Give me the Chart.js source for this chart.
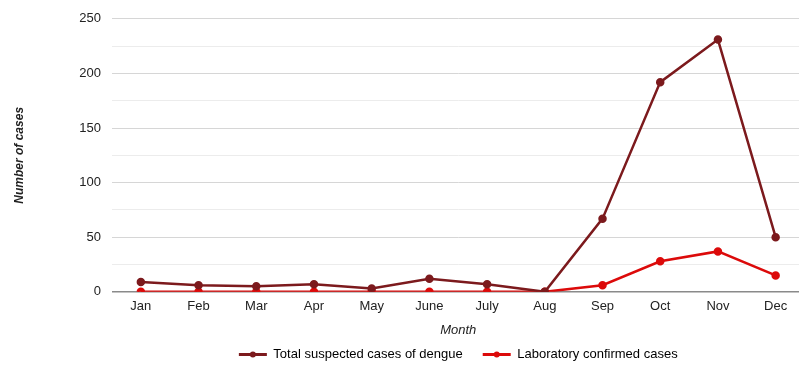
<!DOCTYPE html>
<html>
<head>
<meta charset="utf-8">
<script src="https://cdn.jsdelivr.net/npm/chart.js@4/dist/chart.umd.min.js"></script>
<style>
  html, body { margin: 0; padding: 0; background: #fff; overflow: hidden; }
  #chart { display: block; }
</style>
</head>
<body>
<canvas id="chart" width="810" height="365"></canvas>
<script>
const months = ['Jan', 'Feb', 'Mar', 'Apr', 'May', 'June', 'July', 'Aug', 'Sep', 'Oct', 'Nov', 'Dec'];
const totalSuspected = [9, 6, 5, 7, 3, 12, 7, 0, 67, 192, 231, 50];
const labConfirmed = [0, 0, 0, 0, 0, 0, 0, 0, 6, 28, 37, 15];
const yTicks = [0, 50, 100, 150, 200, 250];

const FONT = '"Liberation Sans", Arial, sans-serif';

// legend sits centred under the plot area, a bit tighter than chart.js puts it
const legendTweak = {
    id: 'legendTweak',
    afterUpdate(chart) {
        const lg = chart.legend;
        if (!lg) return;
        const shift = (chart.chartArea.left + chart.chartArea.right) / 2 - (lg.left + lg.right) / 2;
        lg.left += shift;
        lg.right += shift;
        lg.top -= 10;
        lg.bottom -= 10;
        // hitboxes were already placed by the legend plugin, move them along
        (lg.legendHitBoxes || []).forEach((hb) => {
            hb.left += shift;
            hb.top -= 10;
        });
    },
    afterDraw(chart) {
        // dot on each legend line marker
        const lg = chart.legend;
        if (!lg || !lg.legendHitBoxes) return;
        const ctx = chart.ctx;
        lg.legendHitBoxes.forEach((box, i) => {
            const ds = chart.data.datasets[i];
            ctx.save();
            ctx.fillStyle = ds.borderColor;
            ctx.beginPath();
            ctx.arc(box.left + 14, box.top + box.height / 2, 3, 0, Math.PI * 2);
            ctx.fill();
            ctx.restore();
        });
    }
};

const ctx = document.getElementById('chart').getContext('2d');
new Chart(ctx, {
    type: 'line',
    data: {
        labels: months,
        datasets: [{
            label: 'Total suspected cases of dengue',
            data: totalSuspected,
            borderColor: '#7c1a1d',
            backgroundColor: '#7c1a1d',
            borderWidth: 2.5,
            pointRadius: 3,
            pointHoverRadius: 3,
            tension: 0
        }, {
            label: 'Laboratory confirmed cases',
            data: labConfirmed,
            borderColor: '#dc0a0a',
            backgroundColor: '#dc0a0a',
            borderWidth: 2.5,
            pointRadius: 3,
            pointHoverRadius: 3,
            tension: 0
        }]
    },
    options: {
        responsive: false,
        animation: false,
        layout: { padding: { left: 0, right: 2, top: 13, bottom: -16 } },
        plugins: {
            tooltip: { enabled: false },
            legend: {
                position: 'bottom',
                labels: {
                    font: { family: FONT, size: 13 },
                    color: '#222',
                    boxWidth: 28,
                    boxHeight: 3,
                    padding: 20,
                    generateLabels(chart) {
                        return chart.data.datasets.map((ds, i) => ({
                            text: ds.label,
                            fillStyle: ds.borderColor,
                            strokeStyle: ds.borderColor,
                            lineWidth: 0,
                            datasetIndex: i
                        }));
                    }
                }
            }
        },
        scales: {
            x: {
                offset: true,
                grid: { display: false, drawTicks: false },
                border: { display: false },
                ticks: {
                    color: '#222',
                    padding: 7,
                    font: { family: FONT, size: 13 }
                },
                title: {
                    display: true,
                    text: 'Month',
                    color: '#222',
                    padding: { top: 1, bottom: 0 },
                    font: { family: FONT, size: 13, style: 'italic' }
                }
            },
            y: {
                min: 0,
                max: 250,
                afterFit(scale) { scale.width = 112; },
                border: { display: false },
                grid: {
                    drawTicks: false,
                    color: (c) => {
                        const v = c.tick.value;
                        if (v === 0) return '#8a8a8a';
                        return v % 50 === 0 ? '#d6d6d6' : '#ececec';
                    },
                    lineWidth: (c) => c.tick.value === 0 ? 1.5 : 1
                },
                ticks: {
                    stepSize: 25,
                    color: '#222',
                    padding: 11,
                    font: { family: FONT, size: 13 },
                    callback: (v) => yTicks.includes(v) ? v : ''
                },
                title: {
                    display: true,
                    text: 'Number of cases',
                    color: '#222',
                    padding: { top: 12, bottom: 0 },
                    font: { family: FONT, size: 12, style: 'italic', weight: 'bold' }
                }
            }
        }
    },
    plugins: [legendTweak]
});
</script>
</body>
</html>
